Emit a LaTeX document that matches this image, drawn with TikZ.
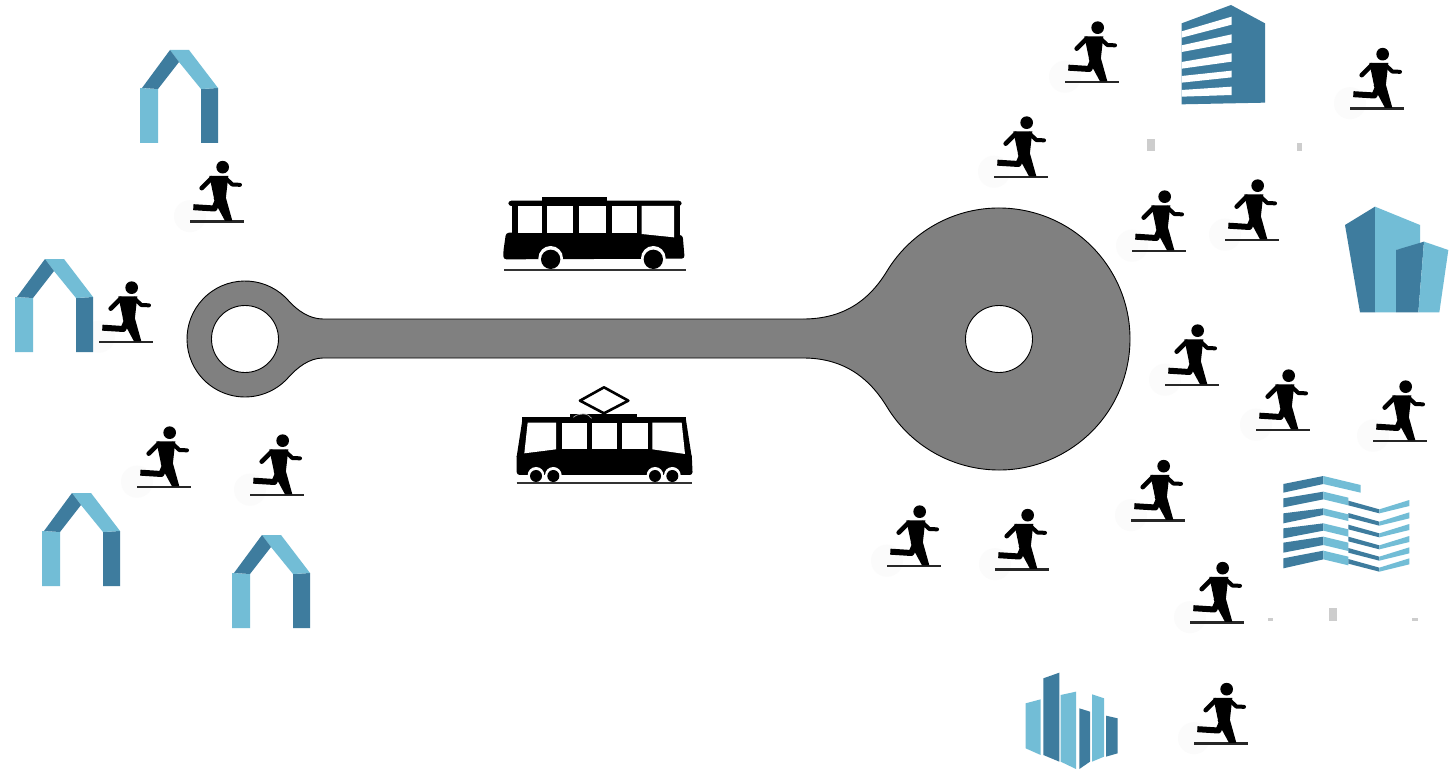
\documentclass[tikz,border=0pt]{standalone}
\definecolor{lightb}{HTML}{72BDD6}
\definecolor{darkb}{HTML}{3E7C9E}
\definecolor{grayshape}{HTML}{808080}
\definecolor{markgray}{HTML}{CDCDCD}
\definecolor{halo}{HTML}{FBFBFB}
\tikzset{
  runner/.pic={
    \begin{scope}[yscale=-1,scale=1/3,shift={(-45,-215)}]
      \fill[halo] (45,199) circle (48);
      \draw[line width=2.1pt,black!85] (45,215) -- (207,215);
      \fill[black] (143,52) circle (19);
      \fill[black,line join=round] (103,78) -- (160,78) -- (152,150) -- (118,150) -- cycle;
      \draw[line width=4.6pt,line cap=round,line join=round] (110,85) -- (80,115);
      \draw[line width=4pt,line cap=round,line join=round] (152,85) -- (172,104) -- (195,105);
      \draw[line width=6pt,line join=round] (130,148) -- (118,176) -- (55,172);
      \fill[black] (116,145) -- (153,145) -- (172,213) -- (150,213) -- (124,165) -- cycle;
    \end{scope}
  },
  house/.pic={
    \begin{scope}[yscale=-1]
    \fill[lightb] (0,-55) -- (18,-54) -- (18,0) -- (0,0) -- cycle;
    \fill[darkb] (61,-54) -- (78,-55) -- (78,0) -- (61,0) -- cycle;
    \fill[lightb] (30,-93) -- (49,-93) -- (78,-55) -- (61,-54) -- (39,-81) -- cycle;
    \fill[darkb] (2,-55) -- (18,-54) -- (39,-81) -- (30,-93) -- cycle;
    \end{scope}
  },
  shapeline/.style={draw=black,line width=0.9pt,fill=grayshape},
  hole/.style={draw=black,line width=0.9pt,fill=white},
  straymark/.style={fill=markgray},
}
\begin{document}
\begin{tikzpicture}[x=1pt,y=1pt,yscale=-1]
\useasboundingbox (0,0) rectangle (1449,773);
\fill[white] (0,0) rectangle (1449,773);

% runners
\foreach \px/\py in {1065/82, 1350/108.5, 994/177, 1132/251, 1225/240, 1165/385, 1256/430, 1373/441, 1131/520.5, 995/569.5, 887/566, 1190/622.5, 1194/743.5, 190/221.5, 99/342, 137/487, 250/495} {
  \pic at (\px,\py) {runner};
}

% gray loop shape
\coordinate (S) at (245,339);
\coordinate (L) at (999,339);
\draw[shapeline]
  ([shift={(-40.7:58)}]S) arc (-40.7:-319.3:58)
  .. controls (297,368) and (309,358) .. (323,358)
  -- (803,358)
  .. controls (843,358) and (869,377) .. ([shift={(148.4:131)}]L)
  arc (148.4:-148.4:131)
  .. controls (869,301) and (843,319) .. (803,319)
  -- (323,319)
  .. controls (309,319) and (297,310) .. cycle;
\draw[hole] (S) circle (33.5);
\draw[hole] (L) circle (33.5);

% bus
\begin{scope}[shift={(490,170)},scale=1/3]
  \fill[black,rounded corners=3pt] (55,92) rectangle (575,108);
  \fill[black] (155,82) rectangle (350,100);
  \fill[black] (65,95) rectangle (570,200);
  \fill[black,rounded corners=3pt] (48,188) -- (578,195) -- (584,266) -- (40,268) -- (40,245) -- cycle;
  \fill[white] (85,108) rectangle (155,188);
  \fill[white] (172,108) rectangle (248,188);
  \fill[white] (268,108) rectangle (348,188);
  \fill[white] (365,108) rectangle (440,188);
  \fill[white] (455,108) -- (552,108) -- (552,202) -- (455,192) -- cycle;
  \fill[white] (182,265) circle (37);
  \fill[white] (490,265) circle (37);
  \fill[black] (182,268) circle (29);
  \fill[black] (490,268) circle (29);
  \draw[line width=2.2pt,black!80] (42,301) -- (588,301);
\end{scope}

% tram
\begin{scope}[shift={(490,170)},scale=1/3]
  \fill[black] (97,742) rectangle (588,758);
  \fill[black] (240,732) rectangle (442,745);
  \fill[black] (97,750) -- (588,750) -- (605,860) -- (80,860) -- cycle;
  \fill[black,rounded corners=3pt] (80,850) -- (605,850) -- (608,915) -- (80,915) -- cycle;
  \fill[white] (113,758) -- (198,758) -- (198,838) -- (103,850) -- cycle;
  \fill[white] (215,758) rectangle (290,838);
  \fill[white] (305,758) rectangle (382,838);
  \fill[white] (397,758) rectangle (475,838);
  \fill[white] (487,758) -- (575,758) -- (585,852) -- (487,838) -- cycle;
  \draw[line width=0.7pt,black!35] (250,742) .. controls (265,728) and (295,728) .. (305,745);
  \draw[line width=2.6pt,fill=white,line join=round] (270,692) -- (342,652) -- (415,692) -- (342,730) -- cycle;
  \foreach \wx in {138,190,495,547} {
    \fill[white] (\wx,916) circle (25);
    \fill[black] (\wx,918) circle (18);
  }
  \draw[line width=2.2pt,black!80] (80,938) -- (605,938);
\end{scope}

% houses
\pic at (140,143) {house};
\pic at (15,352) {house};
\pic at (42,586) {house};
\pic at (232,628) {house};

% office block
\begin{scope}[shift={(1160,0)},scale=1/3]
  \fill[darkb] (65,70) -- (213,15) -- (315,70) -- (315,308) -- (65,313) -- cycle;
  \fill[white] (65,94) -- (215,50) -- (215,74) -- (65,113) -- cycle;
  \fill[white] (65,136) -- (215,103) -- (215,128) -- (65,156) -- cycle;
  \fill[white] (65,186) -- (215,160) -- (215,185) -- (65,206) -- cycle;
  \fill[white] (65,228) -- (215,212) -- (215,232) -- (65,248) -- cycle;
  \fill[white] (65,270) -- (215,260) -- (215,285) -- (65,290) -- cycle;
  % twin tower
  \fill[darkb] (555,675) -- (645,620) -- (645,937) -- (600,937) -- cycle;
  \fill[lightb] (645,620) -- (780,675) -- (780,735) -- (708,750) -- (708,937) -- (645,937) -- cycle;
  \fill[darkb] (708,750) -- (792,725) -- (775,937) -- (708,937) -- cycle;
  \fill[lightb] (792,725) -- (865,750) -- (838,937) -- (775,937) -- cycle;
\end{scope}

% chevron block
\begin{scope}[shift={(1010,460)},scale=1/3]
  \fill[darkb] (820,72) -- (940,48) -- (940,72) -- (820,98) -- cycle;
  \fill[lightb] (940,48) -- (1052,75) -- (1052,98) -- (940,72) -- cycle;
  \foreach \a/\b/\c/\d in {115/142/95/118, 160/190/145/165, 205/235/190/212, 248/278/230/255, 295/325/272/298} {
    \fill[darkb] (820,\a) -- (940,\c) -- (940,\d) -- (820,\b) -- cycle;
    \fill[lightb] (940,\c) -- (1015,\c+18) -- (1015,\d+18) -- (940,\d) -- cycle;
  }
  \foreach \v in {160,197,232,268,302,335} {
    \fill[darkb] (1015,\v-38) -- (1108,\v-12) -- (1108,\v) -- (1015,\v-24) -- cycle;
    \fill[lightb] (1108,\v-12) -- (1198,\v-40) -- (1198,\v-22) -- (1108,\v) -- cycle;
  }
  % bar cluster
  \fill[lightb] (47,730) -- (92,718) -- (92,885) -- (47,865) -- cycle;
  \fill[darkb] (100,655) -- (148,638) -- (148,905) -- (100,885) -- cycle;
  \fill[lightb] (152,705) -- (198,695) -- (198,927) -- (152,905) -- cycle;
  \fill[darkb] (208,745) -- (240,755) -- (240,905) -- (208,927) -- cycle;
  \fill[lightb] (246,703) -- (282,715) -- (282,890) -- (246,905) -- cycle;
  \fill[darkb] (288,767) -- (323,775) -- (323,880) -- (288,890) -- cycle;
\end{scope}

% stray marks
\fill[straymark] (1147,139) rectangle (1155,151);
\fill[straymark] (1297,143) rectangle (1302,151);
\fill[straymark] (1329,608) rectangle (1337,620.5);
\fill[straymark] (1268,618) rectangle (1273,620.5);
\fill[straymark] (1412,618) rectangle (1418,620.5);
\end{tikzpicture}
\end{document}
